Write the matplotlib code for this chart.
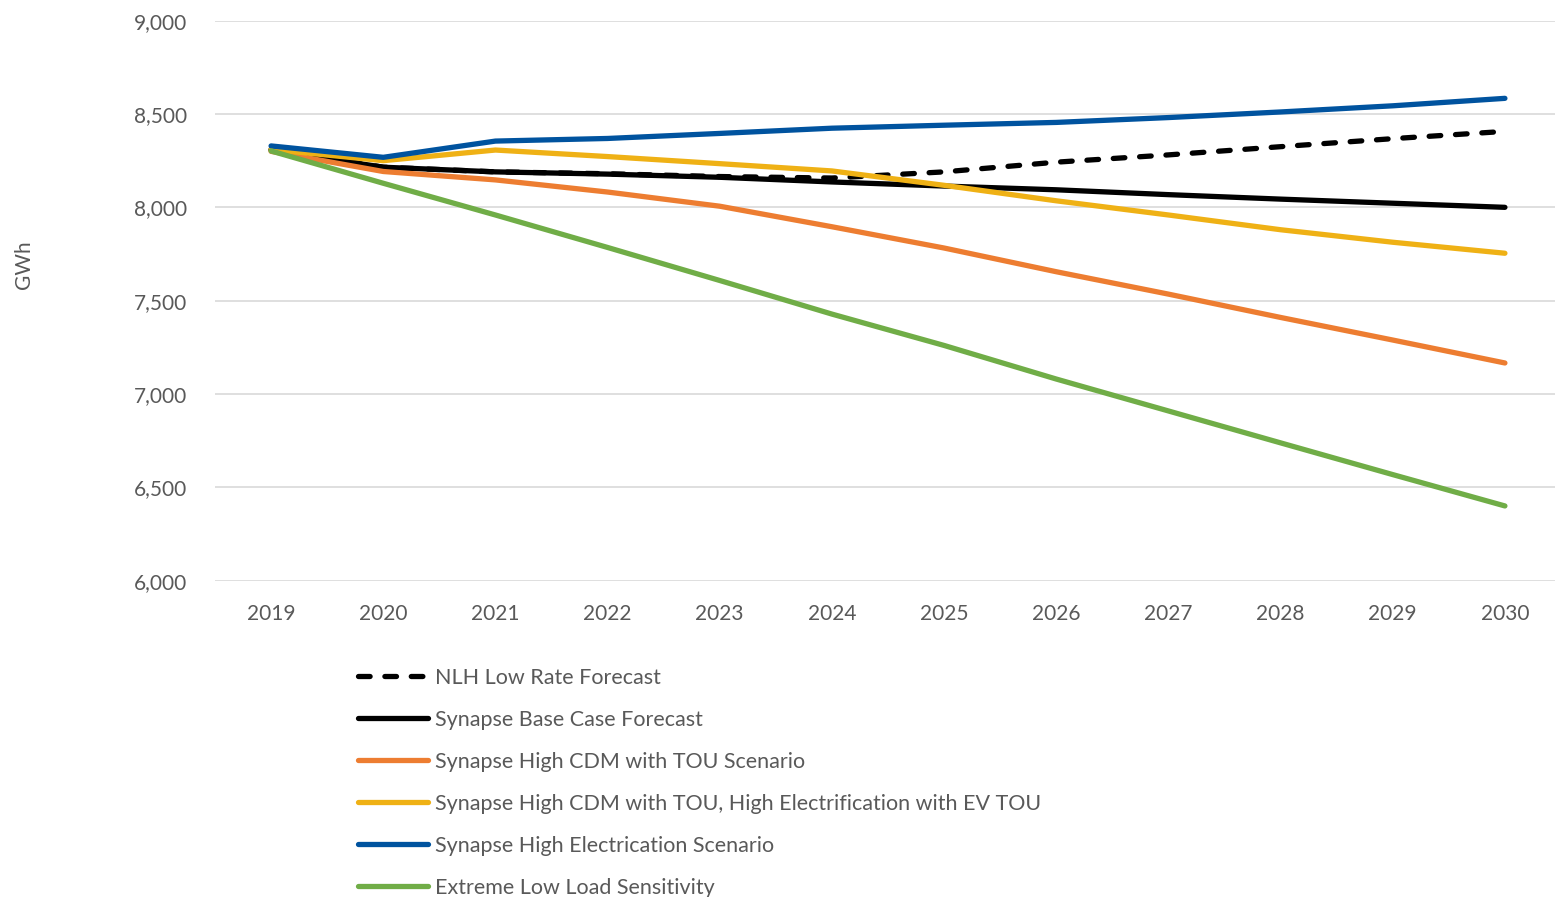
import matplotlib
matplotlib.use("Agg")
import matplotlib.pyplot as plt

years = ["2019", "2020", "2021", "2022", "2023", "2024",
         "2025", "2026", "2027", "2028", "2029", "2030"]

nlh_low_rate = [8310, 8215, 8190, 8180, 8165, 8157, 8190, 8242, 8281, 8325, 8368, 8407]
base_case = [8307, 8215, 8190, 8178, 8161, 8136, 8114, 8094, 8068, 8044, 8022, 8000]
high_cdm_tou = [8300, 8192, 8147, 8082, 8006, 7896, 7782, 7655, 7535, 7410, 7289, 7166]
high_cdm_elec_ev = [8310, 8250, 8307, 8272, 8234, 8195, 8118, 8035, 7959, 7880, 7813, 7754]
high_electrification = [8329, 8268, 8355, 8369, 8396, 8424, 8440, 8455, 8481, 8511, 8544, 8584]
extreme_low = [8302, 8129, 7959, 7785, 7608, 7428, 7260, 7080, 6909, 6738, 6568, 6400]

labels = [
    "NLH Low Rate Forecast",
    "Synapse Base Case Forecast",
    "Synapse High CDM with TOU Scenario",
    "Synapse High CDM with TOU, High Electrification with EV TOU",
    "Synapse High Electrication Scenario",
    "Extreme Low Load Sensitivity",
]
series = [nlh_low_rate, base_case, high_cdm_tou, high_cdm_elec_ev,
          high_electrification, extreme_low]
colors = ["#000000", "#000000", "#ED7D31", "#EFB115", "#00539F", "#70AD47"]

yticks = [6000, 6500, 7000, 7500, 8000, 8500, 9000]

text_color = "#595959"
plt.rcParams["font.family"] = ["Lato", "DejaVu Sans"]

W, H = 1555, 897
fig = plt.figure(figsize=(W / 100, H / 100), dpi=100)

left_px, right_px = 215, 1561
top_px, bottom_px = 20.7, 580.6
ax = fig.add_axes([left_px / W, 1 - bottom_px / H,
                   (right_px - left_px) / W, (bottom_px - top_px) / H])

x = list(range(len(years)))
lw = 3.8
handles = []
for i, (vals, col, lab) in enumerate(zip(series, colors, labels)):
    if i == 0:
        ln, = ax.plot(x, vals, color=col, lw=lw, dashes=(2.2, 2.8),
                      dash_capstyle="round", solid_capstyle="round",
                      zorder=3 + i, label=lab)
    else:
        ln, = ax.plot(x, vals, color=col, lw=lw, solid_capstyle="round",
                      zorder=3 + i, label=lab)
    handles.append(ln)

ax.set_xlim(-0.5, len(years) - 0.5)
ax.set_ylim(6000, 9000)
ax.set_yticks(yticks)
ax.set_yticklabels([f"{v:,}" for v in yticks])
ax.set_xticks(x)
ax.set_xticklabels(years)
ax.grid(axis="y", color="#D9D9D9", lw=1.2, zorder=0)
ax.set_axisbelow(True)
for s in ax.spines.values():
    s.set_visible(False)
ax.tick_params(axis="both", length=0, labelsize=15, colors=text_color)
ax.tick_params(axis="y", pad=20)
ax.tick_params(axis="x", pad=16.5)

fig.text(24 / W, 1 - 265 / H, "GWh", rotation=90, ha="center", va="center",
         fontsize=15, color=text_color)

leg = fig.legend(handles=handles, labels=labels, loc="upper left",
                 bbox_to_anchor=(358 / W, 1 - 668 / H), frameon=False,
                 fontsize=15.5, handlelength=3.25, handletextpad=0.32,
                 labelspacing=1.02, borderaxespad=0, borderpad=0)
for t in leg.get_texts():
    t.set_color(text_color)

fig.savefig("out.png", dpi=100, facecolor="white")
